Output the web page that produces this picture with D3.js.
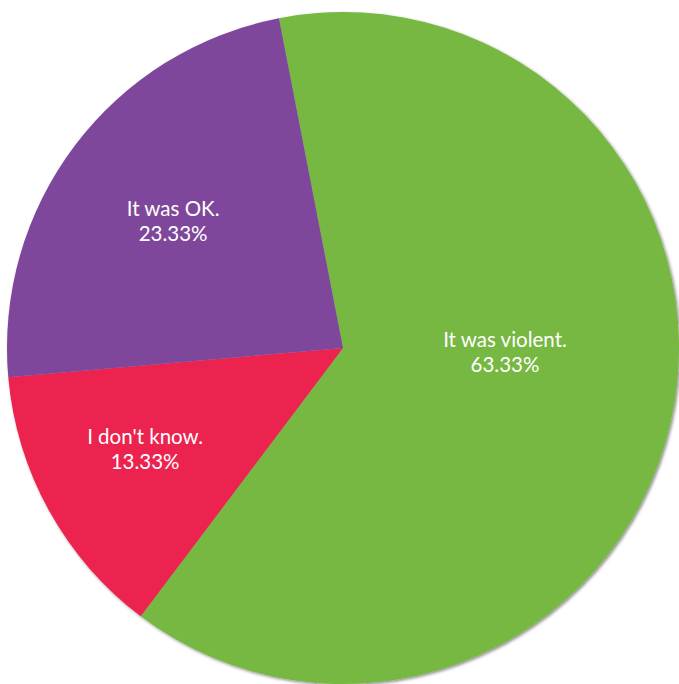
<!DOCTYPE html>
<html>
<head>
<meta charset="utf-8">
<script src="https://cdn.jsdelivr.net/npm/d3@7"></script>
<style>
  html, body { margin: 0; padding: 0; background: #fff; }
  svg { display: block; }
</style>
</head>
<body>
<svg id="chart" width="679" height="684"></svg>
<script>
const categories = ["It was violent.", "I don't know.", "It was OK."];
const values = [63.33, 13.33, 23.33];
const percentLabels = ["63.33%", "13.33%", "23.33%"];
const colors = ["#76b843", "#ec224f", "#7f469b"];

const W = 679, H = 684;
const cx = 343, cy = 348, R = 336;
const startDeg = -11;
// label placement tweaks (angle offset in degrees, radius in px)
const labelAngleOffset = [-13.4, 3.1, 0.8];
const labelRadius = [162, 220, 215];

const svg = d3.select("#chart");
const defs = svg.append("defs");
const f = defs.append("filter").attr("id", "shadow")
  .attr("x", "-10%").attr("y", "-10%").attr("width", "120%").attr("height", "120%");
f.append("feDropShadow").attr("dx", 1.5).attr("dy", 1.5)
  .attr("stdDeviation", 1.5).attr("flood-color", "#000").attr("flood-opacity", 0.45);

const data = categories.map((c, i) => ({ cat: c, value: values[i], pct: percentLabels[i], color: colors[i] }));

const start = startDeg * Math.PI / 180;
const pie = d3.pie().value(d => d.value).sort(null)
  .startAngle(start).endAngle(start + 2 * Math.PI);
const arcs = pie(data);
const arc = d3.arc().innerRadius(0).outerRadius(R);

const g = svg.append("g").attr("transform", `translate(${cx},${cy})`);
const pg = g.append("g").attr("filter", "url(#shadow)");
pg.selectAll("path").data(arcs).enter().append("path")
  .attr("d", arc).attr("fill", d => d.data.color);

const lg = g.append("g")
  .attr("font-family", "Lato, 'Open Sans', sans-serif")
  .attr("font-size", 20.5)
  .attr("fill", "#fff")
  .attr("text-anchor", "middle");

arcs.forEach((a, i) => {
  const mid = (a.startAngle + a.endAngle) / 2 + labelAngleOffset[i] * Math.PI / 180;
  const r = labelRadius[i];
  const x = r * Math.sin(mid), y = -r * Math.cos(mid);
  const t = lg.append("text").attr("x", x).attr("y", y);
  t.append("tspan").attr("x", x).attr("dy", 0).text(a.data.cat);
  t.append("tspan").attr("x", x).attr("dy", 25).text(a.data.pct);
});
</script>
</body>
</html>
